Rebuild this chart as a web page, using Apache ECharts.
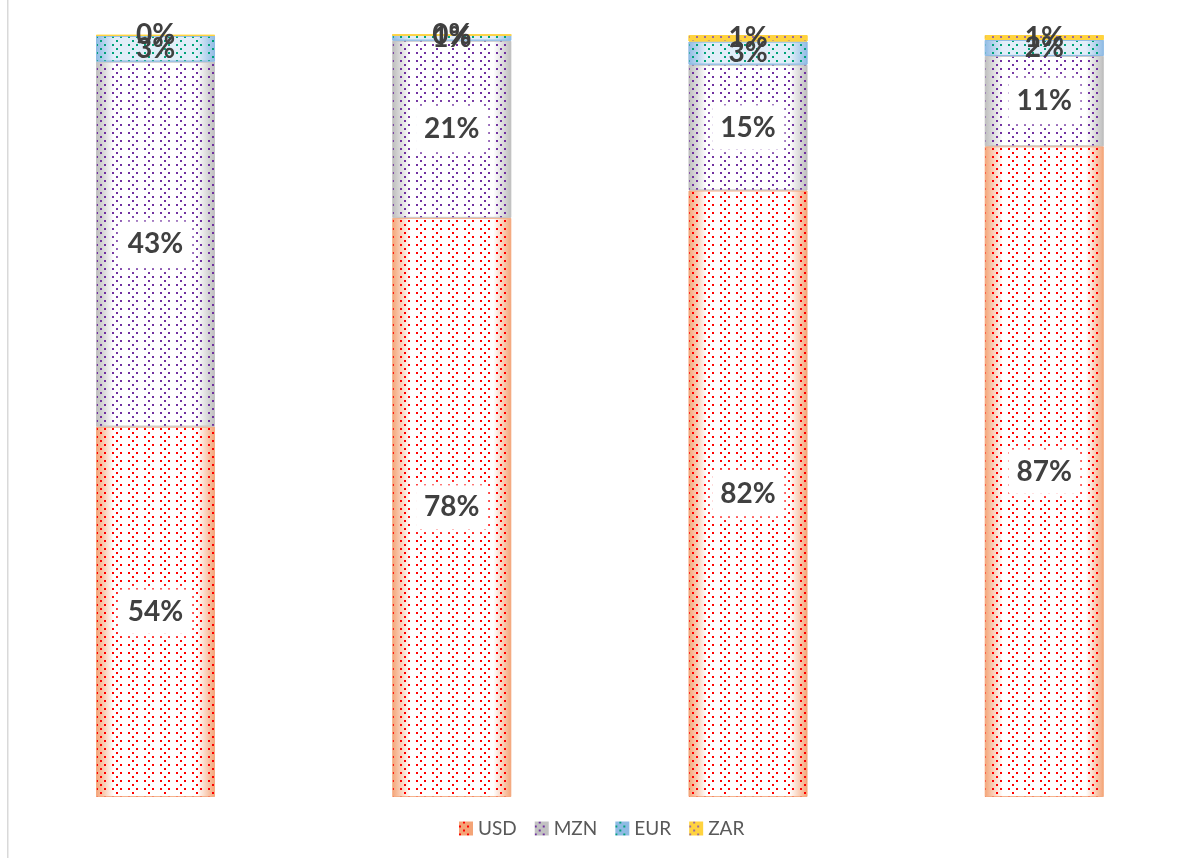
<!DOCTYPE html>
<html>
<head>
<meta charset="utf-8">
<script src="https://cdn.jsdelivr.net/npm/echarts@6/dist/echarts.min.js"></script>
<style>
  html, body { margin: 0; padding: 0; background: #fff; }
  #chart { width: 1180px; height: 858px; }
</style>
</head>
<body>
<div id="chart"></div>
<script>
// ---- data ----
const categories = ['A', 'B', 'C', 'D'];
const seriesNames = ['USD', 'MZN', 'EUR', 'ZAR'];
// bar segment heights (share of bar, %)
const usd = [48.6, 76.0, 79.6, 85.4];
const mzn = [47.9, 23.25, 16.5, 11.85];
const eur = [3.4, 0.75, 3.05, 2.1];
const zar = [0.1, 0, 0.85, 0.65];
// printed data labels
const usdLabels = ['54%', '78%', '82%', '87%'];
const mznLabels = ['43%', '21%', '15%', '11%'];
const eurLabels = ['3%', '1%', '3%', '2%'];
const zarLabels = ['0%', '0%', '1%', '1%'];

// ---- styles ----
function edgeGradient(edge, center) {
  return {
    type: 'linear', x: 0, y: 0, x2: 1, y2: 0,
    colorStops: [
      { offset: 0, color: edge },
      { offset: 0.15, color: center },
      { offset: 0.85, color: center },
      { offset: 1, color: edge }
    ]
  };
}
function dots(color) {
  return {
    symbol: 'rect',
    symbolSize: 1,
    color: color,
    backgroundColor: null,
    dashArrayX: [[2, 6], [0, 4, 2, 10]],
    dashArrayY: [2, 2],
    rotation: 0
  };
}
const styles = {
  USD: { fill: edgeGradient('#F4A477', '#FFFFFF'), legend: '#F4A477', border: 'rgba(244,164,119,0.6)', dot: '#FF0000' },
  MZN: { fill: edgeGradient('#BDBDBD', '#FFFFFF'), legend: '#C2C2C2', border: 'rgba(190,190,190,0.6)', dot: '#7030A0' },
  EUR: { fill: edgeGradient('#8FBBE4', '#E2EEF9'), legend: '#8FBBE4', border: 'rgba(143,187,228,0.9)', dot: '#00A27A' },
  ZAR: { fill: '#FFD33F', legend: '#FFD33F', border: '#FFD33F', dot: '#9B6AA0' }
};
const valuesByName = { USD: usd, MZN: mzn, EUR: eur, ZAR: zar };
const labelsByName = { USD: usdLabels, MZN: mznLabels, EUR: eurLabels, ZAR: zarLabels };

const labelFont = { fontFamily: 'Lato', fontWeight: 'bold', fontSize: 28, color: '#404040' };

const series = seriesNames.map(function (name) {
  const st = styles[name];
  const big = (name === 'USD' || name === 'MZN');
  const lbls = labelsByName[name];
  return {
    name: name,
    type: 'bar',
    stack: 'total',
    barWidth: 119,
    data: valuesByName[name],
    itemStyle: {
      color: st.fill,
      borderColor: st.border,
      borderWidth: 1,
      decal: dots(st.dot)
    },
    label: Object.assign({
      show: true,
      position: 'inside',
      formatter: function (p) { return lbls[p.dataIndex]; }
    }, labelFont, big ? {
      backgroundColor: '#FFFFFF',
      padding: [9, 8, 7, 8],
      shadowColor: 'rgba(255,255,255,1)',
      shadowBlur: 8
    } : {}),
    emphasis: { disabled: true }
  };
});

const chart = echarts.init(document.getElementById('chart'), null, { renderer: 'canvas' });
chart.setOption({
  animation: false,
  backgroundColor: '#FFFFFF',
  aria: { enabled: true, decal: { show: true } },
  grid: { left: 7.4, top: 35, width: 1185, height: 762, containLabel: false, outerBoundsMode: 'none' },
  xAxis: {
    type: 'category',
    data: categories,
    show: false
  },
  yAxis: {
    type: 'value',
    min: 0,
    max: 100,
    show: false
  },
  legend: {
    left: 454,
    top: 814,
    itemWidth: 14,
    itemHeight: 14,
    itemGap: 18,
    icon: 'rect',
    textStyle: { fontFamily: 'Lato', fontSize: 19, color: '#595959', padding: [0, 0, 0, 0] },
    data: seriesNames.map(function (n) {
      return { name: n, itemStyle: { color: styles[n].legend, borderWidth: 0, decal: dots(styles[n].dot) } };
    })
  },
  graphic: [{
    type: 'rect',
    shape: { x: 7, y: 0, width: 1.5, height: 858 },
    style: { fill: '#D9D9D9' },
    silent: true
  }],
  series: series
});
</script>
</body>
</html>
